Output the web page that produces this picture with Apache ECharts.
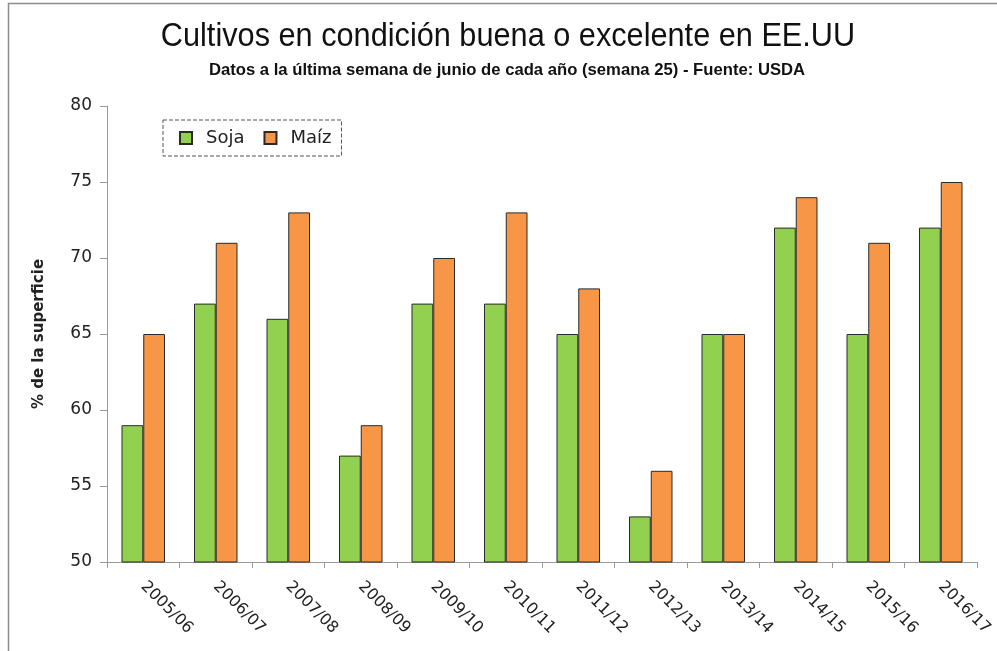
<!DOCTYPE html>
<html>
<head>
<meta charset="utf-8">
<script src="https://cdn.jsdelivr.net/npm/echarts@6/dist/echarts.min.js"></script>
<style>
  html, body { margin: 0; padding: 0; background: #fff; }
  #chart { width: 997px; height: 651px; }
</style>
</head>
<body>
<div id="chart"></div>
<script>
// campañas
const campanas = ['2005/06', '2006/07', '2007/08', '2008/09', '2009/10', '2010/11',
  '2011/12', '2012/13', '2013/14', '2014/15', '2015/16', '2016/17'];
// % en condición buena o excelente
const soja = [59, 67, 66, 57, 67, 67, 65, 53, 65, 72, 65, 72];
const maiz = [65, 71, 73, 59, 70, 73, 68, 56, 65, 74, 71, 75];

const titulo = 'Cultivos en condición buena o excelente en EE.UU';
const subtitulo = 'Datos a la última semana de junio de cada año (semana 25) - Fuente: USDA';

const chart = echarts.init(document.getElementById('chart'));

const option = {
  animation: false,
  backgroundColor: '#fff',
  graphic: [{
    // marco exterior
    type: 'rect',
    shape: { x: 8.5, y: 3.5, width: 1000, height: 700 },
    style: { fill: 'none', stroke: '#8c8c8c', lineWidth: 1.5 },
    silent: true
  }, {
    // título (fuente estrecha simulada)
    type: 'text',
    x: 508,
    y: 37,
    scaleX: 0.93,
    style: {
      text: titulo,
      font: '33px "Liberation Sans", sans-serif',
      fill: '#111',
      textAlign: 'center',
      textVerticalAlign: 'middle'
    },
    silent: true
  }, {
    type: 'text',
    x: 507,
    y: 70,
    scaleX: 0.98,
    style: {
      text: subtitulo,
      font: 'bold 17px "Liberation Sans", sans-serif',
      fill: '#111',
      textAlign: 'center',
      textVerticalAlign: 'middle'
    },
    silent: true
  }],
  legend: {
    data: ['Soja', 'Maíz'],
    icon: 'rect',
    left: 163,
    top: 120,
    padding: [9, 10, 9, 16],
    itemGap: 19,
    itemWidth: 12,
    itemHeight: 12,
    borderColor: '#555',
    borderWidth: 1,
    borderType: 'dashed',
    textStyle: {
      fontFamily: 'DejaVu Sans, sans-serif',
      fontSize: 18,
      color: '#222',
      padding: [0, 0, 0, 9]
    }
  },
  grid: { left: 107, right: 20, top: 106, bottom: 89 },
  xAxis: {
    type: 'category',
    data: campanas,
    axisLine: { lineStyle: { color: '#9a9a9a' } },
    axisTick: { show: true, length: 6, lineStyle: { color: '#9a9a9a' } },
    axisLabel: {
      rotate: -45,
      margin: 22,
      fontFamily: 'DejaVu Sans, sans-serif',
      fontSize: 16,
      color: '#222'
    }
  },
  yAxis: {
    type: 'value',
    min: 50,
    max: 80,
    interval: 5,
    name: '% de la superficie',
    nameLocation: 'middle',
    nameGap: 60,
    nameTextStyle: {
      fontFamily: 'DejaVu Sans, sans-serif',
      fontSize: 15,
      fontWeight: 'bold',
      color: '#222'
    },
    axisLine: { show: true, lineStyle: { color: '#9a9a9a' } },
    axisTick: { show: true, length: 7, lineStyle: { color: '#9a9a9a' } },
    splitLine: { show: false },
    axisLabel: {
      margin: 15,
      fontFamily: 'DejaVu Sans, sans-serif',
      fontSize: 17,
      color: '#222'
    }
  },
  series: [{
    name: 'Soja',
    type: 'bar',
    data: soja,
    barGap: '0%',
    barCategoryGap: '40%',
    itemStyle: { color: '#92d050', borderColor: '#2a2a2a', borderWidth: 1 }
  }, {
    name: 'Maíz',
    type: 'bar',
    data: maiz,
    itemStyle: { color: '#f79646', borderColor: '#2a2a2a', borderWidth: 1 }
  }]
};

chart.setOption(option);
</script>
</body>
</html>
